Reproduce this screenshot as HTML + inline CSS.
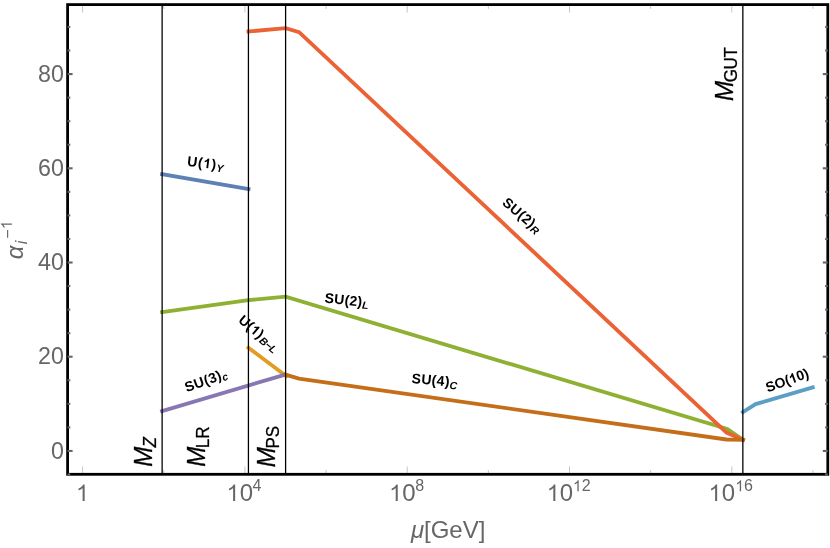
<!DOCTYPE html>
<html>
<head>
<meta charset="utf-8">
<title>Gauge coupling running</title>
<style>
html,body{margin:0;padding:0;background:#fff;}
body{width:830px;height:548px;overflow:hidden;font-family:"Liberation Sans",sans-serif;}
svg{display:block;will-change:transform;transform:translateZ(0);}
text{font-family:"Liberation Sans",sans-serif;}
</style>
</head>
<body>
<svg width="830" height="548" viewBox="0 0 830 548">
<rect x="0" y="0" width="830" height="548" fill="#fff"/>
<g fill="none" stroke-width="3.85" stroke-linecap="square" stroke-linejoin="miter">
<polyline stroke="#5E81B5" points="162.1,174.2 248.5,189.0"/>
<polyline stroke="#E19C24" points="248.5,347.8 286.2,376.1"/>
<polyline stroke="#8FB032" points="162.1,312.1 248.5,300.15 285.6,296.7 727.3,429.0 742.9,439.7"/>
<polyline stroke="#EB6235" points="248.5,31.5 285.6,28.2 299.1,32.1 726.5,432.6 742.9,439.7"/>
<polyline stroke="#8778B3" points="162.1,411.0 284.3,374.85"/>
<polyline stroke="#C56E1A" points="285.6,374.6 298.9,378.6 726.5,439.5 742.9,439.9"/>
<polyline stroke="#5D9EC7" points="742.9,412.2 755.6,404.1 812.7,387.5"/>
</g>
<g stroke="#000" stroke-width="1.28"><line x1="162.13" y1="5" x2="162.13" y2="474"/><line x1="248.43" y1="5" x2="248.43" y2="474"/><line x1="285.6" y1="5" x2="285.6" y2="474"/><line x1="742.85" y1="5" x2="742.85" y2="474"/></g>
<rect x="67.6" y="4.6" width="760.2" height="469.7" fill="none" stroke="#000" stroke-width="2.8"/>
<g stroke="#666" stroke-width="2.1"><line x1="67.6" y1="474.5" x2="70.3" y2="474.5"/><line x1="827.8" y1="474.5" x2="825.1" y2="474.5"/><line x1="67.6" y1="450.95" x2="72.6" y2="450.95"/><line x1="827.8" y1="450.95" x2="822.8" y2="450.95"/><line x1="67.6" y1="427.39" x2="70.3" y2="427.39"/><line x1="827.8" y1="427.39" x2="825.1" y2="427.39"/><line x1="67.6" y1="403.84" x2="70.3" y2="403.84"/><line x1="827.8" y1="403.84" x2="825.1" y2="403.84"/><line x1="67.6" y1="380.28" x2="70.3" y2="380.28"/><line x1="827.8" y1="380.28" x2="825.1" y2="380.28"/><line x1="67.6" y1="356.73" x2="72.6" y2="356.73"/><line x1="827.8" y1="356.73" x2="822.8" y2="356.73"/><line x1="67.6" y1="333.17" x2="70.3" y2="333.17"/><line x1="827.8" y1="333.17" x2="825.1" y2="333.17"/><line x1="67.6" y1="309.62" x2="70.3" y2="309.62"/><line x1="827.8" y1="309.62" x2="825.1" y2="309.62"/><line x1="67.6" y1="286.06" x2="70.3" y2="286.06"/><line x1="827.8" y1="286.06" x2="825.1" y2="286.06"/><line x1="67.6" y1="262.51" x2="72.6" y2="262.51"/><line x1="827.8" y1="262.51" x2="822.8" y2="262.51"/><line x1="67.6" y1="238.95" x2="70.3" y2="238.95"/><line x1="827.8" y1="238.95" x2="825.1" y2="238.95"/><line x1="67.6" y1="215.4" x2="70.3" y2="215.4"/><line x1="827.8" y1="215.4" x2="825.1" y2="215.4"/><line x1="67.6" y1="191.84" x2="70.3" y2="191.84"/><line x1="827.8" y1="191.84" x2="825.1" y2="191.84"/><line x1="67.6" y1="168.29" x2="72.6" y2="168.29"/><line x1="827.8" y1="168.29" x2="822.8" y2="168.29"/><line x1="67.6" y1="144.73" x2="70.3" y2="144.73"/><line x1="827.8" y1="144.73" x2="825.1" y2="144.73"/><line x1="67.6" y1="121.18" x2="70.3" y2="121.18"/><line x1="827.8" y1="121.18" x2="825.1" y2="121.18"/><line x1="67.6" y1="97.62" x2="70.3" y2="97.62"/><line x1="827.8" y1="97.62" x2="825.1" y2="97.62"/><line x1="67.6" y1="74.07" x2="72.6" y2="74.07"/><line x1="827.8" y1="74.07" x2="822.8" y2="74.07"/><line x1="67.6" y1="50.51" x2="70.3" y2="50.51"/><line x1="827.8" y1="50.51" x2="825.1" y2="50.51"/><line x1="67.6" y1="26.96" x2="70.3" y2="26.96"/><line x1="827.8" y1="26.96" x2="825.1" y2="26.96"/></g>
<g stroke="#000" stroke-opacity="0.27" stroke-width="0.85"><line x1="82.6" y1="474.3" x2="82.6" y2="466.4"/><line x1="82.6" y1="4.6" x2="82.6" y2="12.5"/><line x1="163.75" y1="474.3" x2="163.75" y2="470"/><line x1="163.75" y1="4.6" x2="163.75" y2="8.9"/><line x1="244.9" y1="474.3" x2="244.9" y2="466.4"/><line x1="244.9" y1="4.6" x2="244.9" y2="12.5"/><line x1="326.05" y1="474.3" x2="326.05" y2="470"/><line x1="326.05" y1="4.6" x2="326.05" y2="8.9"/><line x1="407.2" y1="474.3" x2="407.2" y2="466.4"/><line x1="407.2" y1="4.6" x2="407.2" y2="12.5"/><line x1="488.35" y1="474.3" x2="488.35" y2="470"/><line x1="488.35" y1="4.6" x2="488.35" y2="8.9"/><line x1="569.5" y1="474.3" x2="569.5" y2="466.4"/><line x1="569.5" y1="4.6" x2="569.5" y2="12.5"/><line x1="650.65" y1="474.3" x2="650.65" y2="470"/><line x1="650.65" y1="4.6" x2="650.65" y2="8.9"/><line x1="731.8" y1="474.3" x2="731.8" y2="466.4"/><line x1="731.8" y1="4.6" x2="731.8" y2="12.5"/><line x1="812.95" y1="474.3" x2="812.95" y2="470"/><line x1="812.95" y1="4.6" x2="812.95" y2="8.9"/></g>
<g transform="translate(38.01,81.67) scale(0.970,1.020)"><text x="0 13.35" y="0" font-size="24" fill="#666">80</text></g>
<g transform="translate(38.01,175.89) scale(0.970,1.020)"><text x="0 13.35" y="0" font-size="24" fill="#666">60</text></g>
<g transform="translate(38.01,270.11) scale(0.970,1.020)"><text x="0 13.35" y="0" font-size="24" fill="#666">40</text></g>
<g transform="translate(38.01,364.33) scale(0.970,1.020)"><text x="0 13.35" y="0" font-size="24" fill="#666">20</text></g>
<g transform="translate(50.95,458.55) scale(0.970,1.020)"><text x="0" y="0" font-size="24" fill="#666">0</text></g>
<g transform="translate(75.8,501)"><path d="M763 0H583V1147Q518 1085 412.5 1023T223 930V1104Q373 1175 485.5 1275T645 1469H763Z" transform="translate(0.27,0) scale(0.01124,-0.01124)" fill="#666"/></g>
<g transform="translate(226.3,501)"><path d="M763 0H583V1147Q518 1085 412.5 1023T223 930V1104Q373 1175 485.5 1275T645 1469H763Z" transform="translate(0.27,0) scale(0.01124,-0.01124)" fill="#666"/><text x="13.35" y="0" font-size="24" fill="#666">0</text><text x="26.3" y="-9.7" font-size="16" fill="#666">4</text></g>
<g transform="translate(388.9,501)"><path d="M763 0H583V1147Q518 1085 412.5 1023T223 930V1104Q373 1175 485.5 1275T645 1469H763Z" transform="translate(0.27,0) scale(0.01124,-0.01124)" fill="#666"/><text x="13.35" y="0" font-size="24" fill="#666">0</text><text x="26.3" y="-9.7" font-size="16" fill="#666">8</text></g>
<g transform="translate(546.5,501)"><path d="M763 0H583V1147Q518 1085 412.5 1023T223 930V1104Q373 1175 485.5 1275T645 1469H763Z" transform="translate(0.27,0) scale(0.01124,-0.01124)" fill="#666"/><text x="13.35" y="0" font-size="24" fill="#666">0</text><path d="M763 0H583V1147Q518 1085 412.5 1023T223 930V1104Q373 1175 485.5 1275T645 1469H763Z" transform="translate(26.48,-9.7) scale(0.00749,-0.00749)" fill="#666"/><text x="35.19" y="-9.7" font-size="16" fill="#666">2</text></g>
<g transform="translate(708.3,501)"><path d="M763 0H583V1147Q518 1085 412.5 1023T223 930V1104Q373 1175 485.5 1275T645 1469H763Z" transform="translate(0.27,0) scale(0.01124,-0.01124)" fill="#666"/><text x="13.35" y="0" font-size="24" fill="#666">0</text><path d="M763 0H583V1147Q518 1085 412.5 1023T223 930V1104Q373 1175 485.5 1275T645 1469H763Z" transform="translate(27.08,-9.7) scale(0.00749,-0.00749)" fill="#666"/><text x="35.79" y="-9.7" font-size="16" fill="#666">6</text></g>
<g transform="translate(410.9,538.4)"><text x="0" y="0" font-size="24" font-style="italic" fill="#666">μ</text><text x="13.15 19.82 38.48 51.83 67.84" y="0" font-size="24" fill="#666">[GeV]</text></g>
<g transform="translate(23.2,259.3) rotate(-90)"><text x="0" y="0" font-size="24" font-style="italic" fill="#666">α</text></g><g transform="translate(26.7,244.2) rotate(-90)"><text x="0" y="0" font-size="16" font-style="italic" fill="#666">i</text></g><g transform="translate(13.1,238.8) rotate(-90)"><text x="0" y="0" font-size="16" fill="#666">−</text></g><g transform="translate(11.9,229.3) rotate(-90)"><path d="M763 0H583V1147Q518 1085 412.5 1023T223 930V1104Q373 1175 485.5 1275T645 1469H763Z" transform="translate(0.18,0) scale(0.00749,-0.00749)" fill="#666"/></g>
<g transform="translate(151.6,466.8) rotate(-90) scale(1.000,1.070)"><text x="0" y="0" font-size="24" font-style="italic" fill="#000" stroke="#000" stroke-width="0.3">M</text><text x="19.39" y="3.83" font-size="17" font-style="italic" fill="#000" stroke="#000" stroke-width="0.25">Z</text></g>
<g transform="translate(204.6,466.8) rotate(-90) scale(1.000,1.070)"><text x="0" y="0" font-size="24" font-style="italic" fill="#000" stroke="#000" stroke-width="0.3">M</text><text x="18.59 28.05" y="3.93" font-size="17" fill="#000" stroke="#000" stroke-width="0.25">LR</text></g>
<g transform="translate(275.1,467.2) rotate(-90) scale(1.000,1.070)"><text x="0" y="0" font-size="24" font-style="italic" fill="#000" stroke="#000" stroke-width="0.3">M</text><text x="18.59 29.93" y="3.93" font-size="17" fill="#000" stroke="#000" stroke-width="0.25">PS</text></g>
<g transform="translate(732.8,100.9) rotate(-90) scale(1.000,1.070)"><text x="0" y="0" font-size="24" font-style="italic" fill="#000" stroke="#000" stroke-width="0.3">M</text><text x="18.59 31.42 43.29" y="4.11" font-size="17" fill="#000" stroke="#000" stroke-width="0.25">GUT</text></g>
<g transform="translate(186.8,165.7) rotate(7)"><text x="0 10.76" y="0" font-size="14" font-weight="bold" fill="#000">U(</text><path d="M806 0H525V1059Q371 915 162 846V1101Q272 1137 401 1237.5T578 1472H806Z" transform="translate(16.23,0) scale(0.00656,-0.00656)" fill="#000"/><text x="24.51" y="0" font-size="14" font-weight="bold" fill="#000">)</text><text x="29.82" y="2.2" font-size="10.5" font-weight="bold" font-style="italic" fill="#000">Y</text></g>
<g transform="translate(501.4,204) rotate(40)"><text x="0 9.76 20.29 25.37 33.58" y="0" font-size="14" font-weight="bold" fill="#000">SU(2)</text><text x="38.66" y="2.2" font-size="10.5" font-weight="bold" font-style="italic" fill="#000">R</text></g>
<g transform="translate(324.2,302.6) rotate(6)"><text x="0 9.64 20.05 25.01 33.1" y="0" font-size="14" font-weight="bold" fill="#000">SU(2)</text><text x="38.06" y="2" font-size="10.5" font-weight="bold" font-style="italic" fill="#000">L</text></g>
<g transform="translate(237.6,321.4) rotate(40)"><text x="0 10.41" y="0" font-size="14" font-weight="bold" fill="#000">U(</text><path d="M806 0H525V1059Q371 915 162 846V1101Q272 1137 401 1237.5T578 1472H806Z" transform="translate(15.53,0) scale(0.00656,-0.00656)" fill="#000"/><text x="23.46" y="0" font-size="14" font-weight="bold" fill="#000">)</text><text x="29.07 36.2 41.89" y="2.2" font-size="10.5" font-weight="bold" font-style="italic" fill="#000">B−L</text></g>
<g transform="translate(186.7,392.3) rotate(-20)"><text x="0 9.72 20.21 25.25 33.42" y="0" font-size="14" font-weight="bold" fill="#000">SU(3)</text><text x="38.46" y="2.2" font-size="10.5" font-weight="bold" font-style="italic" fill="#000">c</text></g>
<g transform="translate(411.3,382.9) rotate(5.5)"><text x="0 9.7 20.17 25.19 33.34" y="0" font-size="14" font-weight="bold" fill="#000">SU(4)</text><text x="38.36" y="2.2" font-size="10.5" font-weight="bold" font-style="italic" fill="#000">C</text></g>
<g transform="translate(767.7,392.5) rotate(-20)"><text x="0 9.31 20.17" y="0" font-size="14" font-weight="bold" fill="#000">SO(</text><path d="M806 0H525V1059Q371 915 162 846V1101Q272 1137 401 1237.5T578 1472H806Z" transform="translate(24.96,0) scale(0.00656,-0.00656)" fill="#000"/><text x="32.56 40.31" y="0" font-size="14" font-weight="bold" fill="#000">0)</text></g>
</svg>
</body>
</html>
